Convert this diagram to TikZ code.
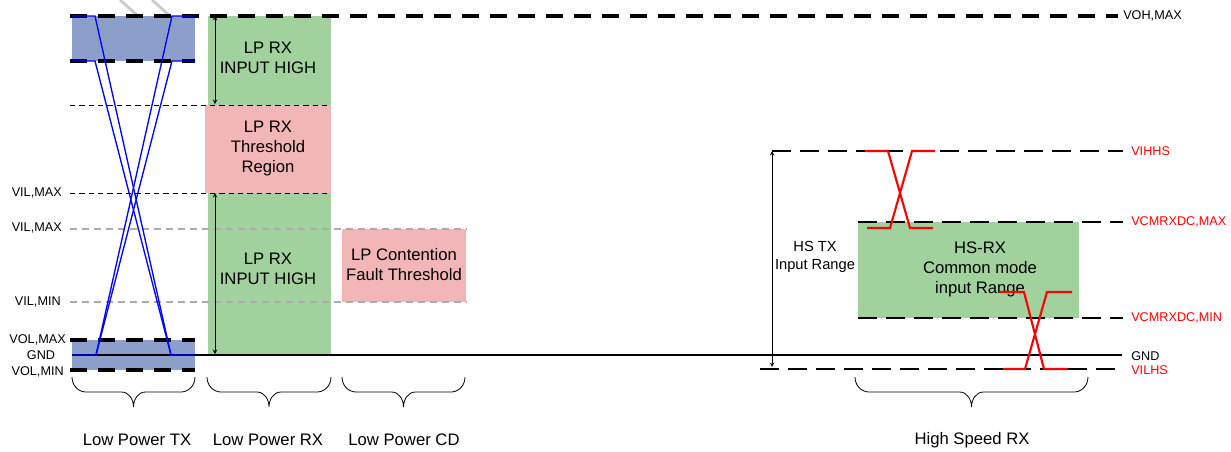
\documentclass[tikz,border=0pt]{standalone}
\usepackage{fontspec}
\setmainfont{Liberation Sans}
\usetikzlibrary{positioning}

\definecolor{txblue}{RGB}{140,159,203}
\definecolor{rxgreen}{RGB}{161,210,157}
\definecolor{rxpink}{RGB}{242,182,182}

\begin{document}
\begin{tikzpicture}[
    x=0.75pt, y=-0.75pt,
    levelthick/.style={line width=2.3pt, dash pattern=on 13pt off 8pt},
    levelhs/.style={line width=1.6pt, dash pattern=on 14pt off 7pt},
    levelthin/.style={line width=0.6pt, dash pattern=on 4pt off 3pt},
    levelgray/.style={line width=0.8pt, gray!65, dash pattern=on 5pt off 4pt},
    gndline/.style={line width=2.2pt},
    txline/.style={blue, line width=1pt},
    hsline/.style={red, line width=1.6pt},
    rangearrow/.style={<->, >=stealth, line width=0.5pt},
    bracepath/.style={line width=0.6pt},
    levellabel/.style={font=\fontsize{9.5}{11}\selectfont, inner sep=0pt},
    hslabel/.style={levellabel, text=red},
    regionbox/.style={align=center, font=\fontsize{12.5}{15}\selectfont, inner sep=0pt},
    grouplabel/.style={font=\fontsize{12.5}{15}\selectfont, inner sep=0pt}
]
\useasboundingbox (0,0) rectangle (1231,451);

% filled regions
\fill[txblue] (72,16) rectangle (195,61);
\fill[txblue] (72,340) rectangle (195,370);
\fill[rxgreen] (208,16) rectangle (331,105);
\fill[rxpink] (205,105) rectangle (331,193);
\fill[rxgreen] (208,193) rectangle (331,355);
\fill[rxpink] (342,229) rectangle (466,302);
\fill[rxgreen] (858,222) rectangle (1079,318);

% region texts
\node[regionbox] (rxhigh) at (268,58) {LP RX\\INPUT HIGH};
\node[regionbox] (rxthresh) at (268,148) {LP RX\\Threshold\\Region};
\node[regionbox] (rxlow) at (268,269) {LP RX\\INPUT HIGH};
\node[regionbox] (cdfault) at (404,265) {LP Contention\\Fault Threshold};
\node[regionbox] (hsrange) at (980,269) {HS-RX\\Common mode\\input Range};
\node[align=center, font=\fontsize{11}{13.7}\selectfont, inner sep=0pt] (hstxrange) at (815,257) {HS TX\\Input Range};

% gray traces at the top
\draw[gray!40, line width=2.2pt] (120,0) -- (137,15);
\draw[gray!40, line width=2.2pt] (152,0) -- (169,15);

% levels
\draw[levelthick] (70,16) -- (1118,16);
\draw[levelthick] (70,61) -- (195,61);
\draw[levelthin] (70,105) -- (331,105);
\draw[levelthin] (70,193) -- (331,193);
\draw[levelgray] (70,229) -- (467,229);
\draw[levelgray] (70,302) -- (467,302);
\draw[levelthick] (70,340) -- (195,340);
\draw[levelthick] (70,370) -- (195,370);
\draw[gndline] (72,355) -- (1122,355);
\draw[levelhs] (772,151) -- (1123,151);
\draw[levelhs] (858,222) -- (1123,222);
\draw[levelhs] (858,318) -- (1123,318);
\draw[levelhs] (760,369) -- (1123,369);

% level labels
\node[levellabel, anchor=west] (vohmax) at (1123,16) {VOH,MAX};
\node[levellabel, anchor=east] (vilmaxa) at (62,193) {VIL,MAX};
\node[levellabel, anchor=east] (vilmaxb) at (62,228) {VIL,MAX};
\node[levellabel, anchor=east] (vilmin) at (61,302) {VIL,MIN};
\node[levellabel, anchor=east] (volmax) at (66,340) {VOL,MAX};
\node[levellabel] (gndleft) at (41,355) {GND};
\node[levellabel, anchor=east] (volmin) at (64,372) {VOL,MIN};
\node[hslabel, anchor=west] (vihhs) at (1131,151) {VIHHS};
\node[hslabel, anchor=west] (vcmmax) at (1131,222) {VCMRXDC,MAX};
\node[hslabel, anchor=west] (vcmmin) at (1131,318) {VCMRXDC,MIN};
\node[levellabel, anchor=west] (gndright) at (1131,356) {GND};
\node[hslabel, anchor=west] (vilhs) at (1131,370) {VILHS};

% range arrows
\coordinate (rxtop) at (215,16);
\coordinate (rxthr) at (215,104);
\coordinate (rxvil) at (215,193);
\coordinate (rxgnd) at (215,354);
\coordinate (hstop) at (772,151);
\coordinate (hsbot) at (772,367);
\draw[rangearrow] (rxtop) -- (rxthr);
\draw[rangearrow] (rxvil) -- (rxgnd);
\draw[rangearrow] (hstop) -- (hsbot);

% low power TX swing
\draw[txline] (72,16) -- (95,16) -- (171,355) -- (195,355);
\draw[txline] (72,61) -- (95,61) -- (171,355);
\draw[txline] (195,16) -- (172,16) -- (96,355) -- (72,355);
\draw[txline] (195,61) -- (172,61) -- (96,355);

% high speed swing
\draw[hsline] (865,151) -- (888,151) -- (910,228) -- (933,228);
\draw[hsline] (867,228) -- (890,228) -- (912,151) -- (935,151);
\draw[hsline] (1000,292) -- (1024,292) -- (1044,369) -- (1068,369);
\draw[hsline] (1003,369) -- (1025,369) -- (1047,292) -- (1072,292);

% braces
\foreach \xa/\xb in {72/195, 207/331, 342/465, 855/1088} {
    \pgfmathsetmacro{\xm}{(\xa+\xb)/2}
    \draw[bracepath] (\xa,377) to[out=-90,in=180] (\xa+14,392) -- (\xm-12,392)
        to[out=0,in=90] (\xm,407) to[out=90,in=180] (\xm+12,392)
        -- (\xb-14,392) to[out=0,in=-90] (\xb,377);
}

% group labels
\node[grouplabel] (lptx) at (137,440) {Low Power TX};
\node[grouplabel] (lprx) at (268,440) {Low Power RX};
\node[grouplabel] (lpcd) at (404,440) {Low Power CD};
\node[grouplabel] (hsrx) at (972,440) {High Speed RX};
\end{tikzpicture}
\end{document}
